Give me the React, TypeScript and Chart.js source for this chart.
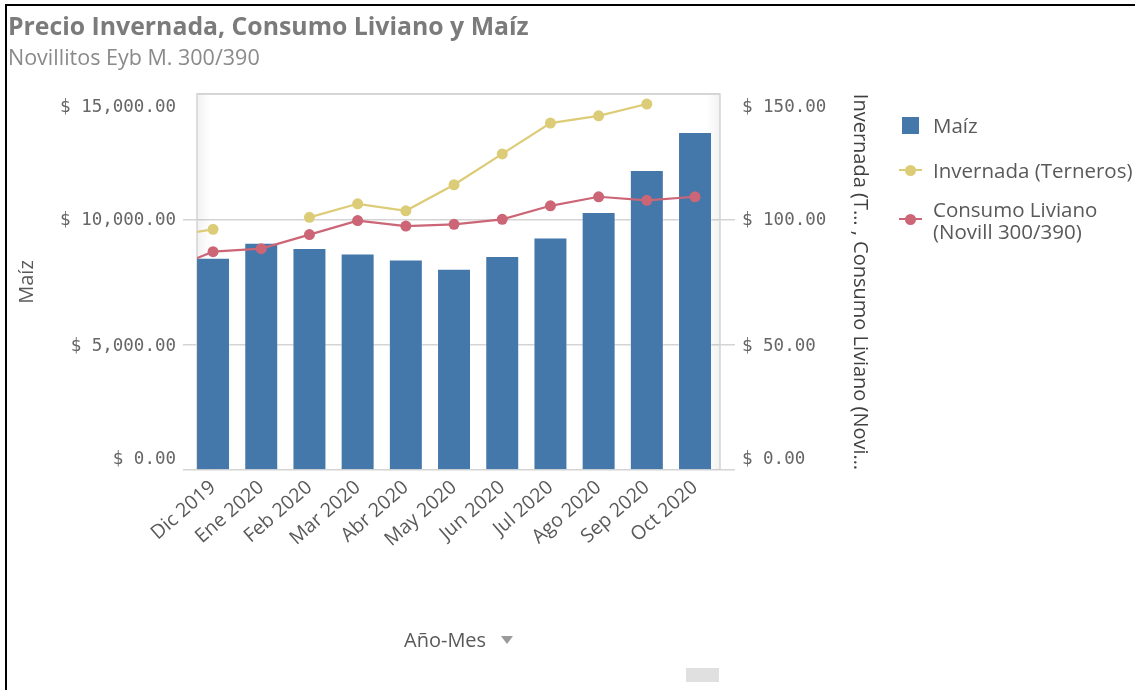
import React, { useEffect, useRef } from 'react';
import { Chart, registerables } from 'chart.js';

Chart.register(...registerables);

// ---- data ----
// 'Nov 2019' sits just outside the visible window (the lines enter from the left edge)
const categories = ['Nov 2019', 'Dic 2019', 'Ene 2020', 'Feb 2020', 'Mar 2020', 'Abr 2020', 'May 2020', 'Jun 2020', 'Jul 2020', 'Ago 2020', 'Sep 2020', 'Oct 2020'];
const maizValues: (number | null)[] = [null, 8470, 9070, 8860, 8640, 8400, 8030, 8540, 9280, 10290, 11970, 13480];
const invernadaValues: (number | null)[] = [92.9, 96.0, null, 100.8, 106.2, 103.4, 113.8, 126.1, 138.4, 141.3, 146.0, null];
const consumoValues: (number | null)[] = [79.4, 87.1, 88.3, 93.9, 99.5, 97.3, 98.0, 100.0, 105.4, 109.0, 107.6, 109.0];
const leftTicks = [0, 5000, 10000, 15000];
const rightTicks = [0, 50, 100, 150];

const BLUE = '#4477aa';
const YELLOW = '#ddcc77';
const RED = '#cc6677';
const GRID = '#d4d4d4';
const TICK_TEXT = '#666666';
const TEXT = '#595959';
const SANS = '"Open Sans", Roboto, sans-serif';
const MONO = '"DejaVu Sans Mono", "Liberation Mono", monospace';

const fmt = (v: number) =>
  '$ ' + v.toLocaleString('en-US', { minimumFractionDigits: 2, maximumFractionDigits: 2 });

const yLabelPlugin = {
  id: 'yLabelPlugin',
  beforeDatasetsDraw(chart: any) {
    const { ctx, chartArea } = chart;
    const { left, right, top, bottom } = chartArea;
    ctx.save();
    // soft inner shading at the plot edges
    let g = ctx.createLinearGradient(left, 0, left + 14, 0);
    g.addColorStop(0, 'rgba(0,0,0,0.05)');
    g.addColorStop(1, 'rgba(0,0,0,0)');
    ctx.fillStyle = g;
    ctx.fillRect(left, top, 14, bottom - top);
    g = ctx.createLinearGradient(right, 0, right - 14, 0);
    g.addColorStop(0, 'rgba(0,0,0,0.05)');
    g.addColorStop(1, 'rgba(0,0,0,0)');
    ctx.fillStyle = g;
    ctx.fillRect(right - 14, top, 14, bottom - top);
    // frame
    ctx.strokeStyle = GRID;
    ctx.lineWidth = 1.5;
    ctx.beginPath();
    ctx.moveTo(left, bottom);
    ctx.lineTo(left, top);
    ctx.lineTo(right, top);
    ctx.lineTo(right, bottom);
    ctx.stroke();
    ctx.restore();
  },
  afterDraw(chart: any) {
    const { ctx } = chart;
    const y = chart.scales.y;
    const y1 = chart.scales.y1;
    ctx.save();
    ctx.font = '17.5px ' + MONO;
    ctx.fillStyle = TICK_TEXT;
    ctx.textBaseline = 'middle';
    ctx.textAlign = 'right';
    leftTicks.forEach((v, i) => {
      let py = y.getPixelForValue(v) + 1.5;
      if (i === 0) py -= 12;
      if (i === leftTicks.length - 1) py += 12;
      ctx.fillText(fmt(v), y.right - 14 - 7, py);
    });
    ctx.textAlign = 'left';
    rightTicks.forEach((v, i) => {
      let py = y1.getPixelForValue(v) + 1.5;
      if (i === 0) py -= 12;
      if (i === rightTicks.length - 1) py += 12;
      ctx.fillText(fmt(v), y1.left + 15 + 7, py);
    });
    ctx.restore();
  },
};

export default function App() {
  const canvasRef = useRef<HTMLCanvasElement | null>(null);

  useEffect(() => {
    if (!canvasRef.current) return;
    const toXY = (arr: (number | null)[]) => arr.map((v, i) => ({ x: i, y: v }));
    const chart = new Chart(canvasRef.current, {
      type: 'bar',
      data: {
        datasets: [
          {
            type: 'line',
            label: 'Invernada (Terneros)',
            data: toXY(invernadaValues) as any,
            yAxisID: 'y1',
            borderColor: YELLOW,
            backgroundColor: YELLOW,
            borderWidth: 2.2,
            pointRadius: 5.5,
            pointBorderWidth: 0,
            pointBackgroundColor: YELLOW,
            spanGaps: false,
            tension: 0,
            order: 1,
          },
          {
            type: 'line',
            label: 'Consumo Liviano (Novill 300/390)',
            data: toXY(consumoValues) as any,
            yAxisID: 'y1',
            borderColor: RED,
            backgroundColor: RED,
            borderWidth: 2.2,
            pointRadius: 5.5,
            pointBorderWidth: 0,
            pointBackgroundColor: RED,
            spanGaps: false,
            tension: 0,
            order: 1,
          },
          {
            type: 'bar',
            label: 'Maíz',
            data: toXY(maizValues) as any,
            yAxisID: 'y',
            backgroundColor: BLUE,
            borderColor: 'rgba(255,255,255,0.3)',
            borderWidth: 1,
            barPercentage: 0.705,
            categoryPercentage: 1,
            order: 2,
          },
        ],
      },
      options: {
        responsive: false,
        animation: false,
        layout: { padding: { top: 94, left: 0, right: 263, bottom: 0 } },
        plugins: { legend: { display: false }, tooltip: { enabled: false } },
        scales: {
          x: {
            type: 'linear',
            bounds: 'data',
            min: 0.667,
            max: 11.518,
            offset: false,
            grid: { display: false, drawTicks: false },
            border: { display: false },
            afterBuildTicks: (s: any) => {
              s.ticks = categories.map((_, i) => ({ value: i })).filter((t) => t.value >= 1);
            },
            afterFit: (s: any) => {
              s.height = 220;
            },
            ticks: {
              autoSkip: false,
              minRotation: 41,
              maxRotation: 41,
              padding: 6,
              color: TEXT,
              font: { family: SANS, size: 19.5 },
              callback: (v: any) => categories[v] ?? '',
            },
          },
          y: {
            position: 'left',
            min: 0,
            max: 15000,
            ticks: { stepSize: 5000, color: 'transparent', font: { family: MONO, size: 17 }, padding: 7 },
            grid: {
              color: GRID,
              lineWidth: 1.5,
              tickLength: 14,
              tickColor: (c: any) => (c.tick && c.tick.value === 15000 ? 'rgba(0,0,0,0)' : GRID),
            },
            border: { display: false },
            title: {
              display: true,
              text: 'Maíz',
              color: TEXT,
              font: { family: SANS, size: 20 },
              padding: { top: 15, bottom: 0 },
            },
            afterFit: (s: any) => {
              s.width = 197;
            },
          },
          y1: {
            position: 'right',
            min: 0,
            max: 150,
            ticks: { stepSize: 50, color: 'transparent', font: { family: MONO, size: 17 }, padding: 7 },
            grid: {
              drawOnChartArea: false,
              lineWidth: 1.5,
              tickLength: 15,
              color: (c: any) => (c.tick && c.tick.value === 150 ? 'rgba(0,0,0,0)' : GRID),
              tickColor: (c: any) => (c.tick && c.tick.value === 150 ? 'rgba(0,0,0,0)' : GRID),
            },
            border: { display: false },
            title: {
              display: true,
              text: 'Invernada (T… , Consumo Liviano (Novi…',
              color: '#404040',
              font: { family: SANS, size: 20 },
              padding: { top: 0, bottom: 0 },
            },
            afterFit: (s: any) => {
              s.width = 152;
            },
          },
        },
      } as any,
      plugins: [yLabelPlugin],
    });
    return () => chart.destroy();
  }, []);

  const legendText: React.CSSProperties = {
    position: 'absolute',
    left: 933,
    fontFamily: SANS,
    fontSize: 20.5,
    lineHeight: '22px',
    color: TEXT,
    whiteSpace: 'nowrap',
  };

  return (
    <div
      style={{
        position: 'absolute',
        left: 0,
        top: 0,
        width: 1135,
        height: 690,
        overflow: 'hidden',
        background: '#ffffff',
      }}
    >
      <div
        style={{
          position: 'absolute',
          left: 5,
          top: 4,
          width: 1300,
          height: 900,
          borderLeft: '2px solid #000',
          borderTop: '2px solid #000',
        }}
      />
      <canvas ref={canvasRef} width={1135} height={690} style={{ position: 'absolute', left: 0, top: 0 }} />
      <div
        style={{
          position: 'absolute',
          left: 8,
          top: 10,
          fontFamily: SANS,
          fontWeight: 700,
          fontSize: 24.8,
          lineHeight: '30px',
          color: '#7b7b7b',
          whiteSpace: 'nowrap',
        }}
      >
        Precio Invernada, Consumo Liviano y Maíz
      </div>
      <div
        style={{
          position: 'absolute',
          left: 8,
          top: 44,
          fontFamily: SANS,
          fontSize: 21.5,
          lineHeight: '26px',
          color: '#8a8a8a',
          whiteSpace: 'nowrap',
        }}
      >
        Novillitos Eyb M. 300/390
      </div>

      {/* legend */}
      <div style={{ position: 'absolute', left: 902, top: 117, width: 17, height: 17, background: BLUE }} />
      <div style={{ ...legendText, top: 114 }}>Maíz</div>

      <div style={{ position: 'absolute', left: 899, top: 169, width: 23, height: 2, background: YELLOW }} />
      <div style={{ position: 'absolute', left: 905, top: 165, width: 11, height: 11, borderRadius: '50%', background: YELLOW }} />
      <div style={{ ...legendText, top: 159 }}>Invernada (Terneros)</div>

      <div style={{ position: 'absolute', left: 899, top: 218, width: 23, height: 2, background: RED }} />
      <div style={{ position: 'absolute', left: 905, top: 214, width: 11, height: 11, borderRadius: '50%', background: RED }} />
      <div style={{ ...legendText, top: 198 }}>
        Consumo Liviano
        <br />
        (Novill 300/390)
      </div>

      {/* x axis title */}
      <div
        style={{
          position: 'absolute',
          left: 404,
          top: 628,
          fontFamily: SANS,
          fontSize: 20,
          lineHeight: '24px',
          color: TEXT,
          whiteSpace: 'nowrap',
        }}
      >
        Año-Mes
      </div>
      <div
        style={{
          position: 'absolute',
          left: 501,
          top: 636,
          width: 0,
          height: 0,
          borderLeft: '6px solid transparent',
          borderRight: '6px solid transparent',
          borderTop: '8px solid #9a9a9a',
        }}
      />
      <div style={{ position: 'absolute', left: 686, top: 668, width: 33, height: 14, background: '#e0e0e0' }} />
    </div>
  );
}
